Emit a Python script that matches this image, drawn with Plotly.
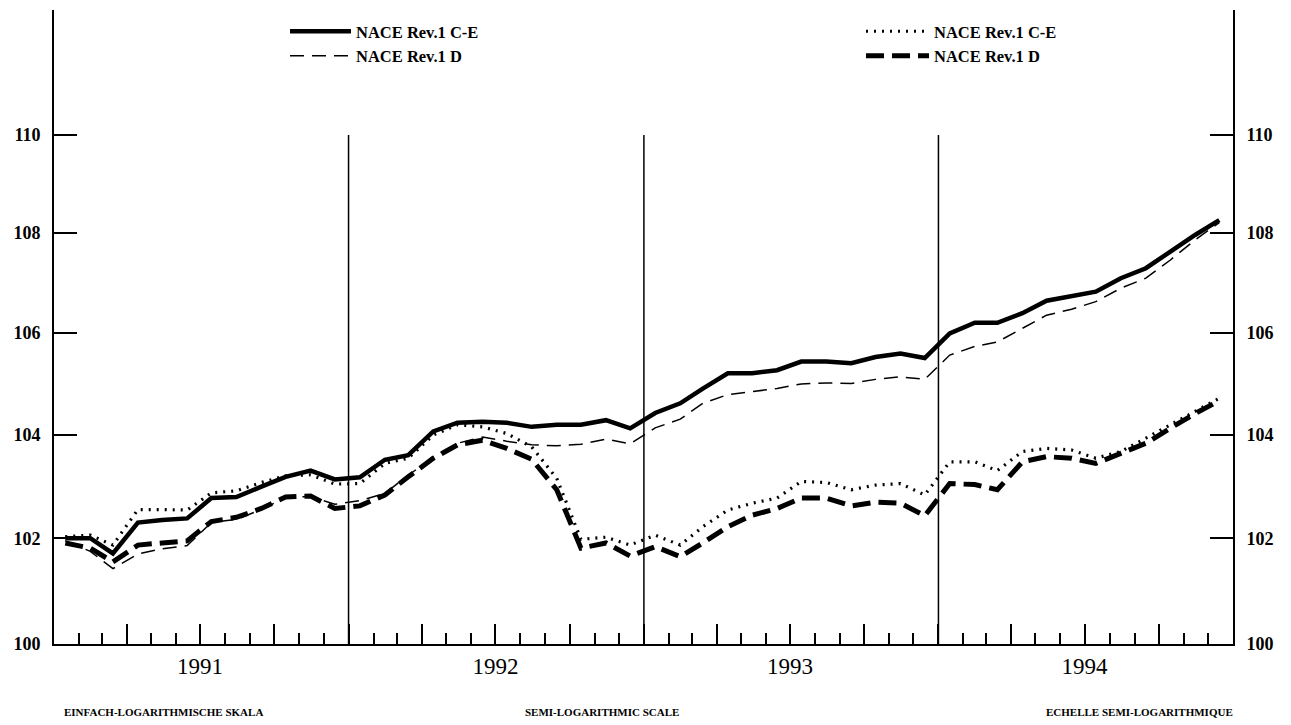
import math
import pandas as pd
import plotly.graph_objects as go

# ---- data (monthly index values, Jan 1991 - Dec 1994) ----
months = [(d + pd.Timedelta(days=14)).strftime("%Y-%m-%d")
          for d in pd.date_range("1991-01-01", periods=48, freq="MS")]

ce_left = [102.00, 102.00, 101.71, 102.30, 102.35, 102.38, 102.77, 102.79, 102.99, 103.18, 103.30, 103.13,
           103.17, 103.51, 103.60, 104.06, 104.23, 104.25, 104.23, 104.15, 104.19, 104.19, 104.28, 104.12,
           104.42, 104.61, 104.90, 105.20, 105.20, 105.26, 105.43, 105.43, 105.40, 105.52, 105.59, 105.50,
           105.99, 106.20, 106.20, 106.39, 106.64, 106.72, 106.82, 107.09, 107.29, 107.62, 107.96, 108.26]

d_left = [101.95, 101.75, 101.42, 101.70, 101.80, 101.86, 102.30, 102.36, 102.55, 102.78, 102.80, 102.65,
          102.72, 102.86, 103.21, 103.56, 103.83, 103.95, 103.87, 103.80, 103.78, 103.81, 103.91, 103.82,
          104.13, 104.30, 104.61, 104.78, 104.84, 104.90, 104.99, 105.01, 105.00, 105.08, 105.13, 105.08,
          105.56, 105.73, 105.82, 106.09, 106.35, 106.47, 106.62, 106.89, 107.09, 107.45, 107.86, 108.21]

ce_right = [102.03, 102.06, 101.87, 102.55, 102.55, 102.54, 102.87, 102.91, 103.07, 103.20, 103.22, 103.04,
            103.05, 103.44, 103.54, 103.99, 104.19, 104.15, 104.02, 103.76, 103.15, 101.98, 102.02, 101.87,
            102.06, 101.87, 102.22, 102.54, 102.67, 102.77, 103.09, 103.07, 102.93, 103.02, 103.05, 102.83,
            103.47, 103.47, 103.30, 103.67, 103.73, 103.70, 103.54, 103.67, 103.93, 104.19, 104.45, 104.71]

d_right = [101.91, 101.81, 101.55, 101.87, 101.91, 101.95, 102.32, 102.40, 102.57, 102.79, 102.81, 102.57,
           102.62, 102.83, 103.18, 103.54, 103.80, 103.89, 103.73, 103.52, 102.93, 101.81, 101.91, 101.66,
           101.84, 101.65, 101.91, 102.22, 102.44, 102.57, 102.77, 102.77, 102.62, 102.69, 102.67, 102.43,
           103.05, 103.03, 102.93, 103.47, 103.57, 103.54, 103.44, 103.63, 103.83, 104.12, 104.41, 104.66]

series_names = ["NACE Rev.1 C-E", "NACE Rev.1 D", "NACE Rev.1 C-E", "NACE Rev.1 D"]
y_ticks = [100, 102, 104, 106, 108, 110]
years = ["1991", "1992", "1993", "1994"]
footer = ["EINFACH-LOGARITHMISCHE SKALA", "SEMI-LOGARITHMIC SCALE", "ECHELLE SEMI-LOGARITHMIQUE"]

FONT = "Liberation Serif"
W, H = 1291, 725
L, R, T, B = 54, 58, 10, 81

fig = go.Figure()
fig.add_trace(go.Scatter(x=months, y=ce_left, name=series_names[0], mode="lines",
                         line=dict(color="black", width=4.5), legend="legend"))
fig.add_trace(go.Scatter(x=months, y=d_left, name=series_names[1], mode="lines",
                         line=dict(color="black", width=1.5, dash="14px,8px"), legend="legend"))
fig.add_trace(go.Scatter(x=months, y=ce_right, name=series_names[2], mode="lines",
                         line=dict(color="black", width=3.2, dash="2px,6px"), legend="legend2"))
fig.add_trace(go.Scatter(x=months, y=d_right, name=series_names[3], mode="lines",
                         line=dict(color="black", width=5, dash="18px,8px"), legend="legend2"))
# invisible companion so the right-hand scale is drawn
fig.add_trace(go.Scatter(x=months, y=ce_left, mode="lines", yaxis="y2", opacity=0,
                         line=dict(color="black", width=0), showlegend=False, hoverinfo="skip"))

# quarter ticks, year labels at mid-year
qdates = pd.date_range("1991-01-01", "1995-01-01", freq="QS")
qticks = [d.strftime("%Y-%m-%d") for d in qdates]
qtext = [str(d.year) if d.month == 7 else "" for d in qdates]

ytop = 2 + math.log10(1.1) * (H - B - T) / 509.0

yax = dict(type="log", range=[2, ytop], showline=True, linecolor="black", linewidth=2,
           showgrid=False, zeroline=False,
           tickmode="array", tickvals=y_ticks, ticktext=[str(v) for v in y_ticks],
           ticks="inside", ticklen=23, tickwidth=2, tickcolor="black",
           ticklabelstandoff=8,
           tickfont=dict(family=FONT, size=18, weight="bold"))

fig.update_layout(
    width=W, height=H,
    margin=dict(l=L, r=R, t=T, b=B, autoexpand=False),
    paper_bgcolor="white", plot_bgcolor="white",
    font=dict(family=FONT, color="black"),
    xaxis=dict(type="date", range=["1991-01-01", "1995-01-01"],
               showline=True, linecolor="black", linewidth=2,
               showgrid=False, zeroline=False,
               tickmode="array", tickvals=qticks, ticktext=qtext,
               ticks="inside", ticklen=20, tickwidth=1.5, tickcolor="black",
               minor=dict(ticks="inside", ticklen=11, tickwidth=1.5, tickcolor="black",
                          dtick="M1", tick0="1991-01-01", showgrid=False),
               tickfont=dict(family=FONT, size=23)),
    yaxis=yax,
    yaxis2=dict(yax, overlaying="y", side="right", anchor="x"),
    legend=dict(xref="container", yref="container", x=285 / W, y=1 - 14 / H,
                xanchor="left", yanchor="top", bgcolor="rgba(0,0,0,0)",
                itemwidth=61, tracegroupgap=0,
                font=dict(family=FONT, size=16.5, weight="bold")),
    legend2=dict(xref="container", yref="container", x=861 / W, y=1 - 14 / H,
                 xanchor="left", yanchor="top", bgcolor="rgba(0,0,0,0)",
                 itemwidth=63, tracegroupgap=0,
                 font=dict(family=FONT, size=16.5, weight="bold")),
    showlegend=True,
)

# year separators (from 100 up to 110)
for yr in years[1:]:
    fig.add_shape(type="line", xref="x", yref="y", x0=f"{yr}-01-01", x1=f"{yr}-01-01",
                  y0=100, y1=110, line=dict(color="black", width=1.5))

# footer texts
ff = dict(family=FONT, size=11, weight="bold")
fy = -(712 - (H - B)) / (H - B - T)
fig.add_annotation(text=footer[0], xref="paper", yref="paper", x=(62 - L) / (W - L - R), y=fy,
                   xanchor="left", yanchor="middle", showarrow=False, font=ff)
fig.add_annotation(text=footer[1], xref="paper", yref="paper", x=(602 - L) / (W - L - R), y=fy,
                   xanchor="center", yanchor="middle", showarrow=False, font=ff)
fig.add_annotation(text=footer[2], xref="paper", yref="paper", x=(1235 - L) / (W - L - R), y=fy,
                   xanchor="right", yanchor="middle", showarrow=False, font=ff)

fig.write_html("out.html", config={"displayModeBar": False},
               post_script="document.body.style.margin='0';")
